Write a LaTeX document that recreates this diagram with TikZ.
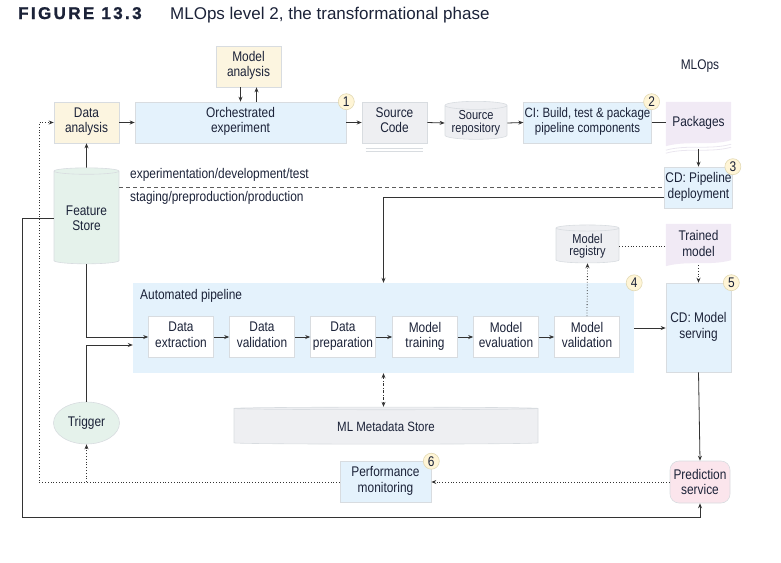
\documentclass[tikz,border=0pt]{standalone}
\usepackage{fontspec}
\setmainfont{Liberation Sans}[FakeStretch=0.85]
\newfontfamily\titlefont{Liberation Sans}
\newfontfamily\figfont{Liberation Sans}[LetterSpace=14, FakeBold=1.2]
\usetikzlibrary{arrows.meta, positioning, calc, shapes, shapes.geometric, backgrounds}

\definecolor{ink}{HTML}{1B2238}
\definecolor{arrowc}{HTML}{333333}
\definecolor{boxline}{HTML}{D8DCE0}
\definecolor{blueish}{HTML}{E4F2FC}
\definecolor{creamy}{HTML}{FCF5E0}
\definecolor{greyish}{HTML}{EEEFF2}
\definecolor{lavender}{HTML}{F1EAF5}
\definecolor{greenish}{HTML}{E5F2EB}
\definecolor{pinkish}{HTML}{FBE5EC}
\definecolor{badgefill}{HTML}{FFF5D6}
\definecolor{badgeline}{HTML}{E2D9B4}

\begin{document}
\begin{tikzpicture}[x=1pt, y=-1pt,
  box/.style={draw=boxline, line width=0.6pt, minimum width=65pt, minimum height=41pt,
    align=center, inner sep=1pt, text=ink, font=\fontsize{14}{15.5}\selectfont,
    execute at begin node=\strut, execute at end node=\strut},
  cyl/.style={cylinder, shape border rotate=90, draw=boxline, line width=0.6pt,
    align=center, inner sep=1pt, text=ink, font=\fontsize{14}{15}\selectfont},
  docbox/.style={minimum width=65pt, minimum height=41pt, align=center, inner sep=1pt,
    text=ink, font=\fontsize{14}{15.5}\selectfont},
  badge/.style={circle, draw=badgeline, fill=badgefill, line width=0.6pt, inner sep=0pt,
    minimum size=16pt, text=ink, font=\fontsize{14}{14}\selectfont},
  arr/.style={-{Stealth[length=5pt, width=4pt]}, line width=0.8pt, draw=arrowc},
  dotline/.style={dotted, line width=0.8pt, draw=arrowc},
  lbl/.style={text=ink, font=\fontsize{14}{15}\selectfont, inner sep=0pt}
]
\useasboundingbox (0,0) rectangle (781,562);

% Title
\node[anchor=base west, inner sep=0pt, text=ink, font=\figfont\bfseries\fontsize{17}{17}\selectfont] (fig) at (18,19) {FIGURE 13.3};
\node[anchor=base west, inner sep=0pt, text=ink, font=\titlefont\fontsize{17}{17}\selectfont] (title) at (170,19) {MLOps level 2, the transformational phase};
\node[lbl] (mlops) at (700,66) {MLOps};

% Experimentation row
\node[box, fill=creamy] (ma) at (248.5,66.5) {Model\\analysis};
\node[box, fill=creamy] (da) at (86.5,122.5) {Data\\analysis};
\node[box, fill=blueish, minimum width=211pt] (orch) at (240.5,122.5) {Orchestrated\\experiment};
\node[box, fill=greyish] (sc) at (394.5,122.5) {Source\\Code};
\draw[boxline, line width=0.8pt] ([xshift=4pt,yshift=-5pt]sc.south west) -- ([xshift=-4pt,yshift=-5pt]sc.south east);
\draw[boxline, line width=0.8pt] ([xshift=4pt,yshift=-8pt]sc.south west) -- ([xshift=-4pt,yshift=-8pt]sc.south east);
\node[cyl, fill=greyish, minimum width=62pt, minimum height=38pt, aspect=0.16,
  font=\fontsize{13}{12.5}\selectfont] (srep) at (476,123) {Source\\repository};
\node[box, fill=blueish, minimum width=127pt, font=\fontsize{13.5}{15.5}\selectfont] (ci) at (587.5,122.5) {CI: Build, test \& package\\pipeline components};
\node[docbox] (pk) at (698.5,122.5) {Packages};
\node[box, fill=blueish] (cdp) at (698.5,187.5) {CD: Pipeline\\deployment};

% Feature store and trigger
\node[cyl, fill=greenish, minimum width=65pt, minimum height=96pt, aspect=0.15,
  font=\fontsize{14}{15.5}\selectfont] (fs) at (86.5,218) {Feature\\Store};
\node[ellipse, draw=boxline, fill=greenish, line width=0.6pt, minimum width=66pt, minimum height=42pt,
  inner sep=0pt, text=ink, font=\fontsize{14}{15}\selectfont] (trig) at (86.5,423) {Trigger};

% Automated pipeline
\node[draw=none, fill=blueish, minimum width=501pt, minimum height=90pt, inner sep=0pt] (auto) at (383.5,328) {};
\node[lbl, anchor=west] (autolbl) at (140,296) {Automated pipeline};
\node[box, fill=white] (ex) at (181,337) {Data\\extraction};
\node[box, fill=white] (va) at (262,337) {Data\\validation};
\node[box, fill=white] (pr) at (343,337) {Data\\preparation};
\node[box, fill=white] (tr) at (425,337) {Model\\training};
\node[box, fill=white] (ev) at (506,337) {Model\\evaluation};
\node[box, fill=white] (mv) at (587,337) {Model\\validation};

% Model registry and serving
\node[cyl, fill=greyish, minimum width=63pt, minimum height=38pt, aspect=0.16,
  font=\fontsize{13}{12.5}\selectfont] (mr) at (587.5,246) {Model\\registry};
\node[docbox, minimum height=39pt] (tm) at (698.5,243.5) {Trained\\model};
\node[box, fill=blueish, minimum height=89pt] (cdm) at (698.5,327.5) {CD: Model\\serving};
\node[draw=boxline, fill=pinkish, line width=0.6pt, rounded corners=9pt, minimum width=60pt,
  minimum height=42pt, align=center, inner sep=1pt, text=ink, font=\fontsize{14}{15.5}\selectfont] (ps) at (700,482) {Prediction\\service};
\node[box, fill=blueish, minimum width=91pt] (perf) at (385.5,482) {Performance\\monitoring};
\node[cyl, fill=greyish, minimum width=304pt, minimum height=37pt, aspect=0.026,
  font=\fontsize{13.5}{15}\selectfont] (mds) at (386,426.5) {ML Metadata Store};

% Document shapes
\begin{scope}[on background layer]
  \foreach \d in {pk,tm} {
    \fill[lavender] (\d.north west) -- (\d.north east) -- ([yshift=3pt]\d.south east)
      .. controls +(-22,6) and +(22,-6) .. ([yshift=-3pt]\d.south west) -- cycle;
  }
  \draw[lavender!70!boxline, line width=0.8pt] ([yshift=-1pt]pk.south east)
      .. controls +(-22,6) and +(22,-6) .. ([yshift=-7pt]pk.south west);
  \draw[lavender!70!boxline, line width=0.8pt] ([yshift=-4pt]pk.south east)
      .. controls +(-22,6) and +(22,-6) .. ([yshift=-10pt]pk.south west);
\end{scope}

% Badges
\node[badge] (b1) at (orch.north east) {1};
\node[badge] (b2) at (ci.north east) {2};
\node[badge] (b3) at (cdp.north east) {3};
\node[badge] (b4) at (auto.north east) {4};
\node[badge] (b5) at (cdm.north east) {5};
\node[badge] (b6) at (perf.north east) {6};

% Environment separator
\draw[dashed, dash pattern=on 4pt off 3pt, line width=0.8pt, draw=arrowc!80] (fs.east |- cdp.west) -- (cdp.west);
\node[lbl, anchor=west] (envtop) at (130,175) {experimentation/development/test};
\node[lbl, anchor=west] (envbot) at (130,198) {staging/preproduction/production};

% Connectors, top row
\draw[arr] ([xshift=-8pt]ma.south) -- ([xshift=-8pt]ma.south |- orch.north);
\draw[arr] ([xshift=8pt]ma.south |- orch.north) -- ([xshift=8pt]ma.south);
\draw[arr] (fs.north) -- (da.south);
\draw[arr] (da.east) -- (orch.west);
\draw[arr] (orch.east) -- (sc.west);
\draw[arr] (sc.east) -- (srep.west);
\draw[arr] (srep.east) -- (ci.west);
\draw[line width=0.8pt, draw=arrowc] (ci.east) -- (pk.west);
\draw[arr] ([yshift=-6pt]pk.south) -- (cdp.north);
\draw[arr] ([yshift=-10pt]cdp.west) -| (auto.north);

% Connectors, pipeline
\draw[arr] (fs.south) |- (ex.west);
\draw[arr] (trig.north) |- ($(auto.west |- ex.west)+(0,8)$);
\draw[arr] (ex) -- (va);
\draw[arr] (va) -- (pr);
\draw[arr] (pr) -- (tr);
\draw[arr] (tr) -- (ev);
\draw[arr] (ev) -- (mv);
\draw[arr, dotline] (mv.north) -- (mr.south);
\draw[dotline] (mr.east) -- (mr.east -| tm.west);
\draw[arr, dotline] ([yshift=-2pt]tm.south) -- (cdm.north);
\draw[arr] (auto.east) -- (auto.east -| cdm.west);
\draw[arr] (cdm.south) -- (ps.north);
\draw[{Stealth[length=5pt, width=4pt]}-{Stealth[length=5pt, width=4pt]}, line width=0.8pt, draw=arrowc,
  dash pattern=on 3pt off 1.5pt on 1pt off 1.5pt] (auto.south) -- (auto.south |- mds.north);

% Monitoring loop
\coordinate (lx) at (39,300);
\coordinate (bl) at (22,517);
\draw[arr, dotline] (ps.west) -- (perf.east);
\draw[arr, dotline] (perf.west) -| (lx) |- (da.west);
\draw[arr, dotline] (trig.south |- perf.west) -- (trig.south);
\draw[arr] (fs.west) -| (bl) -| (ps.south);
\end{tikzpicture}
\end{document}
